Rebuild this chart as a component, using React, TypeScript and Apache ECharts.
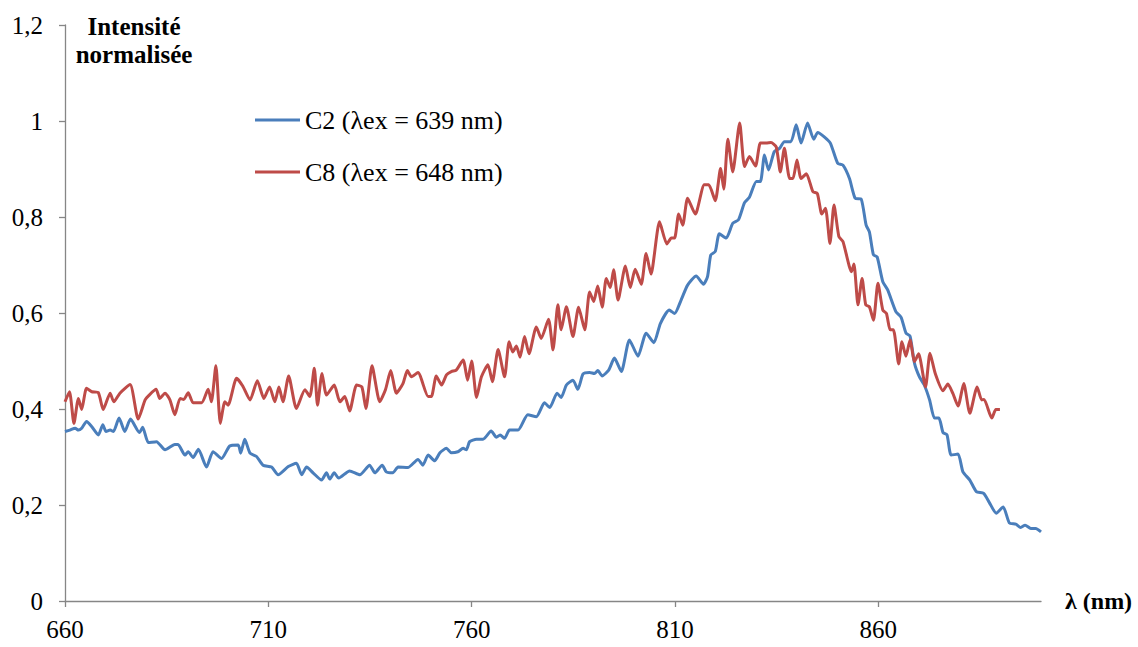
import React, { useEffect, useRef } from "react";
import * as echarts from "echarts";

const X_TICKS = [660, 710, 760, 810, 860];
const SERIES_NAMES = ["C2 (λex = 639 nm)", "C8 (λex = 648 nm)"];

const C2_WAVELENGTHS = [
  660, 661.2, 662.5, 663.3, 664.1, 665.3, 666.6, 668.2, 669.3, 670.1, 671.1, 671.9, 673.3, 674.7, 676.1,
  678.3, 679.1, 680.5, 682.5, 684.6, 687, 687.8, 689.5, 690.3, 691.5, 692.8, 694.8, 696.4, 698.5, 700.5,
  702.6, 703.2, 704.2, 705.5, 707.1, 708.7, 710.8, 712.4, 714.9, 716.9, 718.2, 719.4, 721, 723.1, 724.3,
  725.1, 726.2, 727.3, 730, 732.5, 734.9, 736.2, 738, 739, 740.6, 741.9, 744.3, 746.8, 748, 749.3, 750.9,
  752.2, 753.8, 755, 756.6, 757.9, 758.7, 759.5, 761.2, 762.8, 764.8, 766.1, 767, 768.1, 769.3, 771.4,
  773.8, 775.9, 777.9, 779.2, 781, 782, 783.3, 784.9, 786.1, 787.4, 789, 790.2, 791, 792.1, 793.7, 795.1,
  796.8, 798.8, 800.9, 802.9, 804.8, 806.4, 808.6, 809.9, 811.5, 813.1, 815.2, 817, 818, 818.8, 819.9,
  820.9, 822.6, 824.2, 825.6, 827.1, 828.3, 830, 831, 832, 833, 834.4, 835.7, 836.9, 838.5, 839.8, 841,
  842.6, 844.1, 845.1, 846.7, 848.2, 850, 851.3, 852.9, 854.3, 855.8, 857, 857.8, 858.8, 859.7, 861.1,
  862.3, 864.3, 865.6, 866.8, 867.8, 868.9, 870.1, 871.3, 872.6, 873.8, 874.9, 875.9, 876.9, 877.9, 879.6,
  880.8, 882.5, 884.1, 885.9, 887.3, 889, 890.7, 892.2, 893.8, 895, 896.1, 897.5, 898.7, 900,
];
const C2_VALUES = [
  0.353, 0.356, 0.36, 0.356, 0.36, 0.374, 0.363, 0.346, 0.367, 0.353, 0.356, 0.353, 0.381, 0.353, 0.379,
  0.351, 0.362, 0.33, 0.332, 0.315, 0.326, 0.326, 0.304, 0.311, 0.299, 0.316, 0.279, 0.311, 0.297, 0.323,
  0.325, 0.308, 0.337, 0.308, 0.301, 0.283, 0.279, 0.263, 0.28, 0.287, 0.263, 0.279, 0.267, 0.252, 0.267,
  0.254, 0.267, 0.256, 0.271, 0.263, 0.283, 0.267, 0.283, 0.269, 0.267, 0.279, 0.278, 0.295, 0.283, 0.304, 0.292,
  0.309, 0.318, 0.309, 0.311, 0.318, 0.315, 0.332, 0.337, 0.337, 0.354, 0.341, 0.346, 0.339, 0.356, 0.356,
  0.388, 0.384, 0.413, 0.403, 0.433, 0.424, 0.45, 0.46, 0.441, 0.473, 0.476, 0.474, 0.48, 0.469, 0.481, 0.506,
  0.478, 0.544, 0.51, 0.558, 0.538, 0.578, 0.606, 0.599, 0.627, 0.658, 0.677, 0.66, 0.676, 0.721, 0.728,
  0.765, 0.756, 0.787, 0.794, 0.83, 0.841, 0.874, 0.874, 0.929, 0.898, 0.936, 0.943, 0.957, 0.957, 0.992, 0.954,
  0.996, 0.962, 0.976, 0.967, 0.954, 0.912, 0.908, 0.88, 0.839, 0.837, 0.783, 0.769, 0.721, 0.717, 0.665,
  0.648, 0.603, 0.591, 0.558, 0.552, 0.495, 0.467, 0.45, 0.419, 0.381, 0.381, 0.351, 0.346, 0.304, 0.306,
  0.269, 0.252, 0.228, 0.224, 0.205, 0.183, 0.196, 0.163, 0.16, 0.153, 0.158, 0.151, 0.151, 0.144,
];

const C8_WAVELENGTHS = [
  660, 661.1, 662.2, 663.3, 664.1, 665.3, 666.6, 668.2, 669.4, 671.1, 672, 673.5, 676, 678, 679.7, 680.7,
  682.4, 683.3, 684.6, 685.8, 687, 688.3, 689.2, 690.3, 691.5, 693.6, 695.2, 696, 697.1, 698.2, 699.3, 700.1,
  702.2, 703.7, 705.5, 707.3, 708.9, 710.3, 711.6, 712.6, 713.6, 715, 716.9, 719, 720.2, 721.3, 722.1, 723.2,
  724.3, 726.2, 727.6, 728.8, 730, 731.7, 733, 734, 735.5, 737.4, 738.8, 740.1, 741.5, 743.1, 744.2, 745.2,
  746.8, 749.3, 750.1, 751.3, 752.6, 753.8, 755, 756.2, 757.9, 759, 760, 761.2, 762.4, 764, 765.1, 766.5,
  768.1, 769.2, 770.1, 771, 771.9, 773, 774.1, 775.9, 777.1, 778.9, 780, 781.2, 782, 783.3, 784.9, 786.3,
  787.8, 789, 790, 791, 792.1, 793.1, 794.1, 794.9, 796, 797.8, 799, 800.2, 801.7, 802.9, 804.1, 806.2, 808,
  809.1, 809.9, 810.9, 811.9, 813.1, 815, 817.2, 818.3, 819.9, 821.2, 822, 823, 824.2, 825.9, 827.1, 828.3,
  829.8, 831, 832.4, 833.6, 834.9, 835.9, 836.9, 838.2, 839, 840, 841, 842.3, 843.9, 845, 846.1, 847, 848.1,
  849.1, 850.3, 851.3, 853.4, 854, 855, 856, 856.9, 857.8, 858.8, 859.9, 861.1, 862, 862.9, 863.7, 865,
  865.8, 866.8, 867.8, 868.9, 869.9, 871.6, 872.7, 874, 875.9, 877.1, 878.3, 879.6, 881, 882.5, 884.3, 885.4,
  886, 887.9, 888.9, 889.9,
];
const C8_VALUES = [
  0.415, 0.436, 0.37, 0.422, 0.399, 0.443, 0.436, 0.434, 0.399, 0.433, 0.415, 0.433, 0.451, 0.379, 0.419, 0.429,
  0.441, 0.422, 0.433, 0.419, 0.388, 0.422, 0.42, 0.434, 0.413, 0.413, 0.441, 0.415, 0.49, 0.37, 0.415, 0.408,
  0.464, 0.448, 0.419, 0.459, 0.422, 0.446, 0.415, 0.446, 0.415, 0.469, 0.401, 0.44, 0.426, 0.485, 0.408, 0.474,
  0.429, 0.45, 0.415, 0.426, 0.396, 0.45, 0.446, 0.401, 0.49, 0.415, 0.44, 0.48, 0.433, 0.453, 0.48, 0.467,
  0.476, 0.426, 0.426, 0.469, 0.45, 0.471, 0.478, 0.481, 0.502, 0.46, 0.5, 0.424, 0.467, 0.492, 0.457, 0.524,
  0.467, 0.54, 0.519, 0.531, 0.508, 0.551, 0.515, 0.571, 0.547, 0.587, 0.523, 0.617, 0.565, 0.613, 0.551, 0.612,
  0.565, 0.644, 0.624, 0.656, 0.612, 0.672, 0.653, 0.69, 0.627, 0.698, 0.653, 0.691, 0.66, 0.724, 0.681, 0.79, 0.744,
  0.756, 0.756, 0.806, 0.783, 0.839, 0.806, 0.867, 0.867, 0.834, 0.901, 0.858, 0.962, 0.894, 0.996, 0.905, 0.926,
  0.906, 0.954, 0.954, 0.955, 0.946, 0.894, 0.943, 0.88, 0.88, 0.919, 0.88, 0.89, 0.853, 0.849, 0.806, 0.818, 0.745,
  0.825, 0.759, 0.749, 0.686, 0.702, 0.617, 0.672, 0.617, 0.613, 0.585, 0.662, 0.606, 0.599, 0.565, 0.565, 0.494,
  0.54, 0.51, 0.544, 0.499, 0.515, 0.446, 0.516, 0.474, 0.438, 0.452, 0.433, 0.406, 0.453, 0.391, 0.446, 0.419,
  0.42, 0.381, 0.399, 0.399,
];

const FONT = "'Liberation Serif', 'Times New Roman', serif";
const AXIS_COLOR = "#868686";

export default function App() {
  const ref = useRef<HTMLDivElement>(null);

  useEffect(() => {
    document.body.style.margin = "0";
    if (!ref.current) return;
    const chart = echarts.init(ref.current, null, { renderer: "svg" });
    const fmt = (v: number) => String(Math.round(v * 10) / 10).replace(".", ",");
    chart.setOption({
      animation: false,
      backgroundColor: "#ffffff",
      grid: { left: 65, right: 97, top: 25, bottom: 46, containLabel: false },
      legend: {
        orient: "vertical",
        left: 250,
        top: 102,
        icon: "rect",
        itemWidth: 45,
        itemHeight: 3,
        itemGap: 26,
        data: SERIES_NAMES,
        textStyle: { fontFamily: FONT, fontSize: 26, color: "#000" },
      },
      graphic: [
        {
          type: "text",
          x: 134,
          y: 12,
          style: {
            text: "Intensité\nnormalisée",
            textAlign: "center",
            fontFamily: FONT,
            fontWeight: "bold",
            fontSize: 25,
            lineHeight: 28,
            fill: "#000",
          },
        },
      ],
      xAxis: {
        type: "value",
        min: 660,
        max: 900,
        interval: 50,
        name: "λ (nm)",
        nameLocation: "end",
        nameGap: 24,
        nameTextStyle: {
          fontFamily: FONT,
          fontWeight: "bold",
          fontSize: 24,
          color: "#000",
          align: "left",
          verticalAlign: "middle",
        },
        axisLine: { show: true, lineStyle: { color: AXIS_COLOR, width: 1.3 } },
        axisTick: { show: true, inside: false, length: 6, customValues: X_TICKS, lineStyle: { color: AXIS_COLOR, width: 1.3 } },
        axisLabel: { customValues: X_TICKS, fontFamily: FONT, fontSize: 25, color: "#000", margin: 16 },
        splitLine: { show: false },
      },
      yAxis: {
        type: "value",
        min: 0,
        max: 1.2,
        interval: 0.2,
        axisLine: { show: true, lineStyle: { color: AXIS_COLOR, width: 1.3 } },
        axisTick: { show: true, inside: false, length: 6, lineStyle: { color: AXIS_COLOR, width: 1.3 } },
        axisLabel: { fontFamily: FONT, fontSize: 25, color: "#000", margin: 22, formatter: fmt },
        splitLine: { show: false },
      },
      series: [
        {
          name: SERIES_NAMES[0],
          type: "line",
          data: C2_WAVELENGTHS.map((x, i) => [x, C2_VALUES[i]]),
          showSymbol: false,
          symbol: "none",
          smooth: 0.2,
          lineStyle: { color: "#4a7ebb", width: 3 },
          itemStyle: { color: "#4a7ebb" },
        },
        {
          name: SERIES_NAMES[1],
          type: "line",
          data: C8_WAVELENGTHS.map((x, i) => [x, C8_VALUES[i]]),
          showSymbol: false,
          symbol: "none",
          smooth: 0.2,
          lineStyle: { color: "#be4b48", width: 3 },
          itemStyle: { color: "#be4b48" },
        },
      ],
    });
    return () => chart.dispose();
  }, []);

  return <div ref={ref} style={{ width: 1138, height: 647 }} />;
}
